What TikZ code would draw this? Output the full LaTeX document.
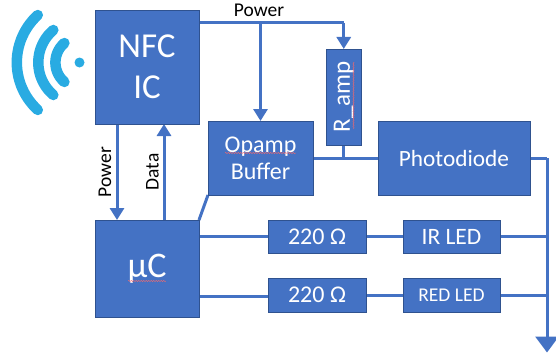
\documentclass[tikz,border=0pt]{standalone}
\usepackage{fontspec}
\setmainfont{Carlito}
\usetikzlibrary{arrows.meta,decorations.pathmorphing}
\definecolor{boxfill}{HTML}{4472C4}
\definecolor{boxline}{HTML}{2F528F}
\definecolor{wifi}{HTML}{29ABE2}
\tikzset{
  blk/.style={draw=boxline,line width=0.9pt,fill=boxfill,text=white,inner sep=0pt,align=center,font=\fontsize{#1}{#1}\selectfont},
  blk/.default=22,
  wire/.style={draw=boxfill,line width=3pt},
  arr/.style={wire,-{Triangle[width=14pt,length=12pt]}},
  bigarr/.style={wire,-{Triangle[width=23pt,length=16pt]}},
  lbl/.style={text=black,inner sep=0pt,font=\fontsize{19.5}{19.5}\selectfont},
  wave/.style={wifi,line width=10.5pt,line cap=round},
  squig/.style={draw=red!60!white,line width=0.35pt,decorate,decoration={snake,amplitude=0.7pt,segment length=2.5pt}}
}
\begin{document}
\begin{tikzpicture}[x=1pt,y=-1pt]
\useasboundingbox (0,0) rectangle (556,353);
% junctions and free ends
\coordinate (pstart) at (199,23);
\coordinate (pbranch) at (260.5,23);
\coordinate (pcorner) at (343.75,23);
\coordinate (rjoin) at (343.75,158);
\coordinate (busTop) at (547,158);
\coordinate (busIR) at (547,236.5);
\coordinate (busRED) at (547,295);
\coordinate (busEnd) at (547,352.5);
\coordinate (nfcP) at (117,124);
\coordinate (ucP) at (117,220);
\coordinate (nfcD) at (164,124);
\coordinate (ucD) at (164,220);
\coordinate (ucIR) at (199,236.5);
\coordinate (ucRED) at (199,296);
\coordinate (r2in) at (268,296);
% wires
\draw[wire] (pstart) -- (pcorner);
\draw[arr] (pcorner) -- (343.75,49);
\draw[arr] (pbranch) -- (260.5,121);
\draw[arr] (nfcP) -- (ucP);
\draw[arr] (ucD) -- (nfcD);
\draw[wire] (199,220) -- (208,195);
\draw[wire] (313,158) -- (378,158);
\draw[wire] (343.75,145) -- (rjoin);
\draw[wire] (530,158) -- (busTop);
\draw[bigarr] (busTop) -- (busEnd);
\draw[wire] (ucIR) -- (268,236.5);
\draw[wire] (ucRED) -- (r2in);
\draw[wire] (366,236.5) -- (403,236.5);
\draw[wire] (366,295) -- (403,295);
\draw[wire] (500,236.5) -- (busIR);
\draw[wire] (500,295) -- (busRED);
% blocks
\node[blk=35,minimum width=104pt,minimum height=114pt,execute at begin node={\baselineskip=41pt}] (nfc) at (147,67) {NFC\\IC};
\node[blk=24,minimum width=105pt,minimum height=74pt,execute at begin node={\baselineskip=27pt}] (opamp) at (260.5,158) {Opamp\\Buffer};
\node[blk=25,minimum width=34.5pt,minimum height=96pt] (ramp) at (343.75,97) {\rotatebox{90}{R\_amp}};
\node[blk=23.3,minimum width=152pt,minimum height=74pt] (photo) at (454,158) {Photodiode};
\node[blk=36,minimum width=104pt,minimum height=97pt] (uc) at (147,268.5) {µC};
\node[blk=24,minimum width=98pt,minimum height=33pt] (rone) at (317,236.5) {220 Ω};
\node[blk=24,minimum width=98pt,minimum height=34pt] (rtwo) at (317,295) {220 Ω};
\node[blk=23.5,minimum width=97pt,minimum height=33pt] (ir) at (451.5,236.5) {IR LED};
\node[blk=19.5,minimum width=97pt,minimum height=34pt] (red) at (451.5,295) {RED LED};
% spell-check squiggles
\draw[squig] (225,153) -- (296,153);
\draw[squig] (353.5,62) -- (353.5,129);
\draw[squig] (128,281) -- (166,281);
% labels
\node[lbl] (lp) at (259,10) {Power};
\node[lbl,rotate=90] (lpw) at (105,172) {Power};
\node[lbl,rotate=90] (ld) at (152.5,172) {Data};
% wireless icon
\foreach \r/\a in {25.6/49.6,42.7/49.6,64.2/47.7}
  \draw[wave] plot[smooth,samples=15,domain=-\a:\a] ({81-\r*cos(\x)},{62.5+\r*sin(\x)});
\fill[wifi] (79.5,62.5) circle (5pt);
\end{tikzpicture}
\end{document}
